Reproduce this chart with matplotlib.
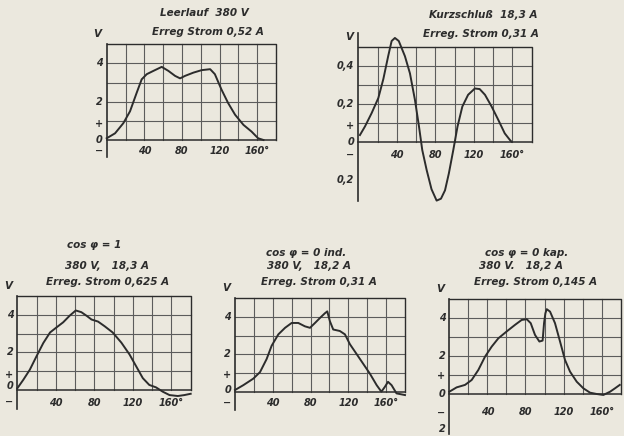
import numpy as np
import matplotlib
matplotlib.use("Agg")
import matplotlib.pyplot as plt

# ── Data ──────────────────────────────────────────────────────────────────────

LEER_DEG = [0, 8.9, 17.7, 24.8, 31.9, 37.2, 42.6, 49.6, 58.5, 65.6, 72.7, 78, 83.3,
            92.2, 101, 110, 115, 122, 129, 136.5, 145.4, 154, 161, 166.7]
LEER_V = [0.09, 0.35, 0.88, 1.5, 2.47, 3.17, 3.44, 3.61, 3.82, 3.61, 3.35, 3.22, 3.35,
          3.52, 3.65, 3.7, 3.44, 2.64, 1.94, 1.32, 0.79, 0.44, 0.09, 0.0]

KURZ_DEG = [1.7, 6.9, 13.8, 20.8, 26, 31, 34.6, 38, 42, 48.4, 53.6, 58.8, 63, 66.4,
            71, 76, 81.3, 85.8, 90, 94, 98.6, 103, 108, 114, 121, 126, 131.5, 138.4,
            145.3, 152, 157.4, 159]
KURZ_V = [0.035, 0.08, 0.15, 0.23, 0.33, 0.45, 0.53, 0.546, 0.53, 0.45, 0.36, 0.22,
          0.08, -0.044, -0.15, -0.25, -0.31, -0.30, -0.256, -0.167, -0.044, 0.08,
          0.185, 0.247, 0.28, 0.277, 0.247, 0.185, 0.115, 0.044, 0.009, 0.0]

COS1_DEG = [0, 6.2, 13, 20, 27, 34, 40.7, 47.6, 54.5, 60.7, 66.5, 72.4, 77, 83.8,
            90.7, 99, 108, 116.5, 123.4, 130.3, 137, 144, 151, 158, 166.6, 173.4, 180]
COS1_V = [0.09, 0.54, 1.08, 1.8, 2.5, 3.06, 3.33, 3.6, 3.96, 4.23, 4.14, 3.93, 3.75,
          3.64, 3.39, 3.06, 2.52, 1.89, 1.26, 0.63, 0.27, 0.14, -0.09, -0.27, -0.32,
          -0.27, -0.2]

IND_DEG = [0, 8.8, 19.4, 26.5, 33.5, 38.8, 45.9, 53, 60, 67, 74, 79.4, 84.7, 90,
           95.2, 97.7, 100.5, 104, 111, 116.4, 121.7, 128.7, 135.8, 142.9, 150, 155,
           158.7, 162, 165.8, 171, 180]
IND_V = [0.09, 0.35, 0.7, 1.05, 1.75, 2.46, 3.07, 3.42, 3.68, 3.68, 3.5, 3.42, 3.68,
         3.95, 4.2, 4.3, 3.77, 3.33, 3.25, 3.07, 2.54, 2.02, 1.49, 0.96, 0.35, 0.0,
         0.26, 0.53, 0.35, -0.09, -0.18]

KAP_DEG = [0, 7.7, 16.5, 23.5, 30.5, 37.5, 44.5, 51.5, 60.2, 69, 76, 81.3, 85.5, 90,
           94.6, 98, 99.5, 100.9, 102.3, 105.8, 111, 116.3, 121.5, 126.8, 133.8,
           140.8, 147.8, 154.8, 161.8, 168.8, 174, 179]
KAP_V = [0.12, 0.35, 0.48, 0.74, 1.27, 1.97, 2.5, 2.94, 3.3, 3.65, 3.91, 3.95, 3.74,
         3.12, 2.77, 2.82, 3.74, 4.26, 4.48, 4.35, 3.74, 2.77, 1.8, 1.18, 0.65, 0.3,
         0.07, 0.0, -0.05, 0.12, 0.3, 0.48]

X_TICKS = [40, 80, 120, 160]
X_TICK_LABELS = ["40", "80", "120", "160°"]

LEER_YLABELS = [(4, "4"), (2, "2"), (0.83, "+"), (0, "0"), (-0.58, "−")]
KURZ_YLABELS = [(0.4, "0,4"), (0.2, "0,2"), (0.083, "+"), (0, "0"), (-0.07, "−"), (-0.2, "0,2")]
COS1_YLABELS = [(4, "4"), (2, "2"), (0.8, "+"), (0.2, "0"), (-0.63, "−")]
IND_YLABELS = [(4, "4"), (2, "2"), (0.9, "+"), (0.1, "0"), (-0.6, "−")]
KAP_YLABELS = [(4, "4"), (2, "2"), (0.95, "+"), (0, "0"), (-1.0, "−"), (-1.85, "2")]

LEER_TITLE = ["Leerlauf  380 V", "Erreg Strom 0,52 A"]
KURZ_TITLE = ["Kurzschluß  18,3 A", "Erreg. Strom 0,31 A"]
COS1_TITLE = ["cos φ = 1", "380 V,   18,3 A", "Erreg. Strom 0,625 A"]
IND_TITLE = ["cos φ = 0 ind.", "380 V,   18,2 A", "Erreg. Strom 0,31 A"]
KAP_TITLE = ["cos φ = 0 kap.", "380 V.   18,2 A", "Erreg. Strom 0,145 A"]

# ── Layout (pixel boxes of each oscillogram in the 624x436 page) ──────────────

W, H = 624, 436
BG = "#ebe8de"
INK = "#2c2c2c"
GRID = "#5c5c5c"
FONT = dict(family=["Liberation Sans Narrow", "DejaVu Sans"], style="italic",
            weight="bold", color=INK)

panels = [
    dict(deg=LEER_DEG, v=LEER_V, ylabels=LEER_YLABELS, title=LEER_TITLE,
         L=106.7, R=276, T=44.3, Z=140, ytop=5, step=1, ymin=-0.9, spine_top=5,
         title_x=[204, 208], title_y=[13, 32], xdrop=11),
    dict(deg=KURZ_DEG, v=KURZ_V, ylabels=KURZ_YLABELS, title=KURZ_TITLE,
         L=358.3, R=531.7, T=46.7, Z=141.7, ytop=0.5, step=0.1, ymin=-0.31,
         spine_top=0.57, title_x=[483, 481], title_y=[15, 34], xdrop=13),
    dict(deg=COS1_DEG, v=COS1_V, ylabels=COS1_YLABELS, title=COS1_TITLE,
         L=17.3, R=190.7, T=296, Z=390, ytop=5, step=1, ymin=-1.0, spine_top=5,
         title_x=[94, 107, 108], title_y=[245, 266, 282], xdrop=13),
    dict(deg=IND_DEG, v=IND_V, ylabels=IND_YLABELS, title=IND_TITLE,
         L=235, R=405, T=298.3, Z=391.7, ytop=5, step=1, ymin=-0.96, spine_top=5,
         title_x=[306, 309, 319], title_y=[253, 266, 282], xdrop=11),
    dict(deg=KAP_DEG, v=KAP_V, ylabels=KAP_YLABELS, title=KAP_TITLE,
         L=449.3, R=620.7, T=299.3, Z=394, ytop=5, step=1, ymin=-2.1, spine_top=5,
         title_x=[527, 521, 536], title_y=[253, 266, 282], xdrop=18),
]

fig = plt.figure(figsize=(W / 100, H / 100), dpi=100, facecolor=BG)

for p in panels:
    unit = (p["Z"] - p["T"]) / p["ytop"]
    B = p["Z"] - p["ymin"] * unit
    ax = fig.add_axes([p["L"] / W, 1 - B / H, (p["R"] - p["L"]) / W, (B - p["T"]) / H])
    ax.set_xlim(0, 180)
    ax.set_ylim(p["ymin"], p["ytop"])
    ax.axis("off")

    # grid of the oscillogram screen (only above the zero line)
    for x in np.arange(20, 180, 20):
        ax.plot([x, x], [0, p["ytop"]], color=GRID, lw=0.8, clip_on=False)
    for y in np.arange(p["step"], p["ytop"] - 1e-9, p["step"]):
        ax.plot([0, 180], [y, y], color=GRID, lw=0.8, clip_on=False)
    ax.plot([0, 180, 180], [p["ytop"], p["ytop"], 0], color=INK, lw=1.0, clip_on=False)
    ax.plot([0, 180], [0, 0], color=INK, lw=1.1, clip_on=False)
    ax.plot([0, 0], [p["ymin"], p["spine_top"]], color=INK, lw=1.2, clip_on=False)

    ax.plot(p["deg"], p["v"], color=INK, lw=1.4, clip_on=False, solid_joinstyle="round")

    for val, lab in p["ylabels"]:
        ax.annotate(lab, xy=(0, val), xytext=(-4, 0), textcoords="offset pixels",
                    ha="right", va="center", fontsize=7, annotation_clip=False, **FONT)
    for x, lab in zip(X_TICKS, X_TICK_LABELS):
        ax.annotate(lab, xy=(x, 0), xytext=(0, -p["xdrop"]), textcoords="offset pixels",
                    ha="center", va="center", fontsize=7, annotation_clip=False, **FONT)
    ax.annotate("V", xy=(0, p["ytop"]), xytext=(-9, 10), textcoords="offset pixels",
                ha="center", va="center", fontsize=7.5, annotation_clip=False, **FONT)

    for tx, ty, line in zip(p["title_x"], p["title_y"], p["title"]):
        fig.text(tx / W, 1 - ty / H, line, ha="center", va="center", fontsize=7.5, **FONT)

fig.savefig("out.png", dpi=100, facecolor=BG)
